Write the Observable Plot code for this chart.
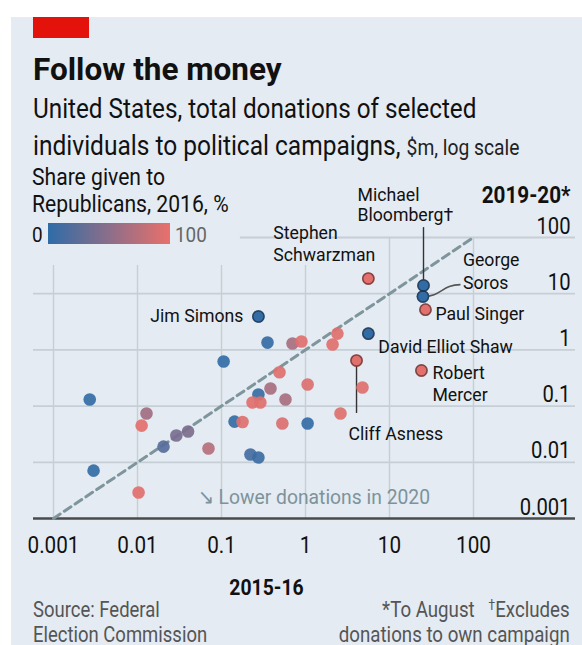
<!DOCTYPE html>
<html><head><meta charset="utf-8">
<script src="https://cdn.jsdelivr.net/npm/d3@7"></script>
<script src="https://cdn.jsdelivr.net/npm/@observablehq/plot@0.6"></script>
<style>
html,body{margin:0;padding:0;background:#fff;width:582px;height:645px;overflow:hidden;font-family:Roboto,sans-serif;}
#panel{position:absolute;left:11px;top:17px;width:571px;height:628px;background:#e4ebf2;}
#redbar{position:absolute;left:33px;top:17px;width:56px;height:21px;background:#e3120b;}
.t{position:absolute;white-space:nowrap;line-height:1;transform-origin:0 0;color:#111;}
.r{transform-origin:100% 0;text-align:right;}
#chart{position:absolute;left:0;top:160px;}
#grad{position:absolute;left:48px;top:223px;width:122px;height:21px;}
</style></head><body>
<div id="panel"></div><div id="redbar"></div>
<div class="t" style="left:33px;top:53.5px;font-size:31.5px;font-weight:bold;">Follow the money</div>
<div class="t" style="left:33px;top:95.4px;font-size:28px;transform:scaleX(0.867)">United States, total donations of selected</div>
<div class="t" style="left:33px;top:132.4px;font-size:28px;transform:scaleX(0.875)">individuals to political campaigns, <span style="font-size:22px;color:#222">$m, log scale</span></div>
<div class="t" style="left:32px;top:164.8px;font-size:24px;transform:scaleX(0.88)">Share given to</div>
<div class="t" style="left:32px;top:191.8px;font-size:24px;transform:scaleX(0.88)">Republicans, 2016, %</div>
<div id="grad"></div>
<div class="t" id="lg0" style="left:32px;top:225.3px;font-size:21px;transform:scaleX(0.9)"></div>
<div class="t" id="lg1" style="left:175px;top:225.3px;font-size:21px;color:#666;transform:scaleX(0.9)"></div>
<div id="chart"></div>
<div class="t" style="left:33px;top:598.5px;font-size:22px;color:#555;transform:scaleX(0.84)">Source: Federal</div>
<div class="t" style="left:33px;top:623.5px;font-size:22px;color:#555;transform:scaleX(0.84)">Election Commission</div>
<div class="t r" style="right:12px;top:598.5px;font-size:22px;color:#555;transform:scaleX(0.85)">*To August&nbsp;&nbsp;&nbsp;<span style="font-size:14px;position:relative;top:-7px">†</span>Excludes</div>
<div class="t r" style="right:12px;top:623.5px;font-size:22px;color:#555;transform:scaleX(0.85)">donations to own campaign</div>
<script>
// ---- data ----
const donors = ["Jim Simons","Stephen Schwarzman","Michael Bloomberg","George Soros","Paul Singer","David Elliot Shaw","Cliff Asness","Robert Mercer",
  "","","","","","","","","","","","","","","","","","","","","","","","","","","","","",""];
const labelText = ["Jim Simons","Stephen\nSchwarzman","Michael\nBloomberg†","George\nSoros","Paul Singer","David Elliot Shaw","Cliff Asness","Robert\nMercer"];
const d2016 = [0.275, 5.6, 25.4, 25, 26.8, 5.6, 4.05, 24,
  0.353, 0.70, 0.895, 2.4, 2.1, 0.106, 0.49, 1.06, 0.383, 0.275, 0.234, 0.29, 0.578, 4.77, 2.61, 0.143, 0.178, 0.53, 1.06, 0.221, 0.275, 0.070, 0.040, 0.029, 0.0204, 0.0128, 0.0112, 0.0027, 0.003, 0.0103];
const d2020 = [3.93, 18.6, 14, 8.9, 5.2, 1.95, 0.646, 0.43,
  1.35, 1.30, 1.41, 1.95, 1.25, 0.62, 0.40, 0.242, 0.206, 0.161, 0.116, 0.116, 0.131, 0.214, 0.074, 0.053, 0.052, 0.049, 0.049, 0.0138, 0.0122, 0.0176, 0.0353, 0.030, 0.019, 0.074, 0.045, 0.131, 0.0071, 0.0029];
const repShare = [3, 97, 2, 2, 96, 2, 95, 97,
  4, 65, 95, 95, 95, 3, 95, 93, 65, 5, 95, 95, 65, 95, 95, 3, 95, 93, 3, 12, 8, 72, 42, 40, 22, 62, 97, 3, 3, 95];
const xTicks = [0.001, 0.01, 0.1, 1, 10, 100];
const xTickLabels = ["0.001", "0.01", "0.1", "1", "10", "100"];
const yTicks = [0.001, 0.01, 0.1, 1, 10, 100];
const yTickLabels = ["0.001", "0.01", "0.1", "1", "10", "100"];
const shareDomain = [0, 100];
const shareLabels = ["0", "100"];
const parity = [0.001, 100];

// ---- styles ----
const BLUE = "#2e6ca8", RED = "#e9706b";
const GRID = "#c6ced6", TEXT = "#111";

document.getElementById("grad").style.background = `linear-gradient(to right, ${BLUE}, ${RED})`;
document.getElementById("lg0").textContent = shareLabels[0];
document.getElementById("lg1").textContent = shareLabels[1];

const rows = d2016.map((x, i) => ({name: donors[i], label: labelText[i] || "", x, y: d2020[i], share: repShare[i]}));
const named = rows.filter(d => d.name);
const others = rows.filter(d => !d.name);
const by = Object.fromEntries(named.map(d => [d.name, d]));

const labelLayout = {
  "Jim Simons": {textAnchor: "end", dx: -15, dy: 6},
  "Stephen Schwarzman": {textAnchor: "start", dx: -95, dy: -18, lineHeight: 1.12},
  "Michael Bloomberg": {textAnchor: "start", dx: -66, dy: -64, lineHeight: 1.1},
  "George Soros": {textAnchor: "start", dx: 40, dy: -8, lineHeight: 1.2},
  "Paul Singer": {textAnchor: "start", dx: 10, dy: 10},
  "David Elliot Shaw": {textAnchor: "start", dx: 10, dy: 19},
  "Cliff Asness": {textAnchor: "start", dx: -8, dy: 79},
  "Robert Mercer": {textAnchor: "start", dx: 11, dy: 31, lineHeight: 1.16}
};

const plot = Plot.plot({
  width: 582, height: 440,
  marginTop: 77, marginBottom: 82, marginLeft: 53, marginRight: 109,
  x: {type: "log", domain: [0.001, 100], axis: null},
  y: {type: "log", domain: [0.001, 100], axis: null},
  color: {type: "linear", domain: shareDomain, range: [BLUE, RED], interpolate: "rgb"},
  style: {background: "transparent", fontFamily: "Roboto, sans-serif", color: TEXT, overflow: "visible"},
  marks: [
    Plot.ruleY(yTicks.filter(d => d > 0.001), {y: d => d, x1: d => d === 100 ? 0.168 : 0.000578, x2: 1637, stroke: GRID, strokeWidth: 1.8}),
    Plot.ruleX(xTicks, {x: d => d, y1: 0.001, y2: d => d >= 10 ? 100 : 31.8, stroke: GRID, strokeWidth: 1.4}),
    Plot.ruleY([0.001], {y: d => d, x1: 0.000578, x2: 1637, stroke: "#4a4a4a", strokeWidth: 2.4}),
    Plot.line(parity, {x: d => d, y: d => d, stroke: "#7e959b", strokeWidth: 3, strokeDasharray: "8 5"}),
    Plot.ruleX([by["Michael Bloomberg"]], {x: "x", y1: "y", y2: 150, stroke: "#333", strokeWidth: 1.4}),
    Plot.ruleX([by["Cliff Asness"]], {x: "x", y1: "y", y2: 0.074, stroke: "#333", strokeWidth: 1.4}),
    Plot.link([by["George Soros"]], {x1: "x", y1: "y", x2: 70, y2: 14.5, curve: "bump-x", stroke: "#555", strokeWidth: 1.6}),
    Plot.dot(others, {x: "x", y: "y", r: 6.3, fill: "share", fillOpacity: 0.92}),
    Plot.dot(named, {x: "x", y: "y", r: 6.3, fill: "share"}),
    Plot.dot(named, {x: "x", y: "y", r: 5.6, fill: "none", stroke: "#1a1a1a", strokeOpacity: 0.5, strokeWidth: 1.6}),
    ...named.map(d => Plot.text([d], {x: "x", y: "y", text: "label", fontSize: 19, lineAnchor: "bottom", fill: TEXT, ariaDescription: "label", ...labelLayout[d.name]})),
    Plot.text(xTicks, {x: d => d, text: (d, i) => xTickLabels[i], frameAnchor: "bottom", lineAnchor: "top", dy: 18, fontSize: 23, fill: TEXT, ariaDescription: "xticks"}),
    Plot.text(yTicks, {y: d => d, text: (d, i) => yTickLabels[i], frameAnchor: "right", textAnchor: "end", lineAnchor: "bottom", dx: 97, dy: -4, fontSize: 23, fill: TEXT, ariaDescription: "yticks"}),
    Plot.text(["2019-20*"], {frameAnchor: "top-right", textAnchor: "end", lineAnchor: "bottom", dx: 97, dy: -35, fontSize: 23, fontWeight: "bold", fill: TEXT, ariaDescription: "ytitle"}),
    Plot.text(["2015-16"], {frameAnchor: "bottom", lineAnchor: "bottom", dx: 3, dy: 76, fontSize: 22, fontWeight: "bold", fill: TEXT, ariaDescription: "xtitle"}),
    Plot.text(["↘ Lower donations in 2020"], {frameAnchor: "bottom-left", textAnchor: "start", lineAnchor: "bottom", dx: 144, dy: -15, fontSize: 21, fill: "#7d939b", ariaDescription: "lower"})
  ]
});

const condense = {label: 0.93, xticks: 0.9, yticks: 0.88, ytitle: 0.9, xtitle: 0.88, lower: 0.92};
for (const [name, k] of Object.entries(condense)) {
  plot.querySelectorAll(`g[aria-description="${name}"] text`).forEach(t => {
    t.setAttribute("transform", (t.getAttribute("transform") || "") + ` scale(${k},1)`);
  });
}
document.getElementById("chart").appendChild(plot);
</script>
</body></html>
